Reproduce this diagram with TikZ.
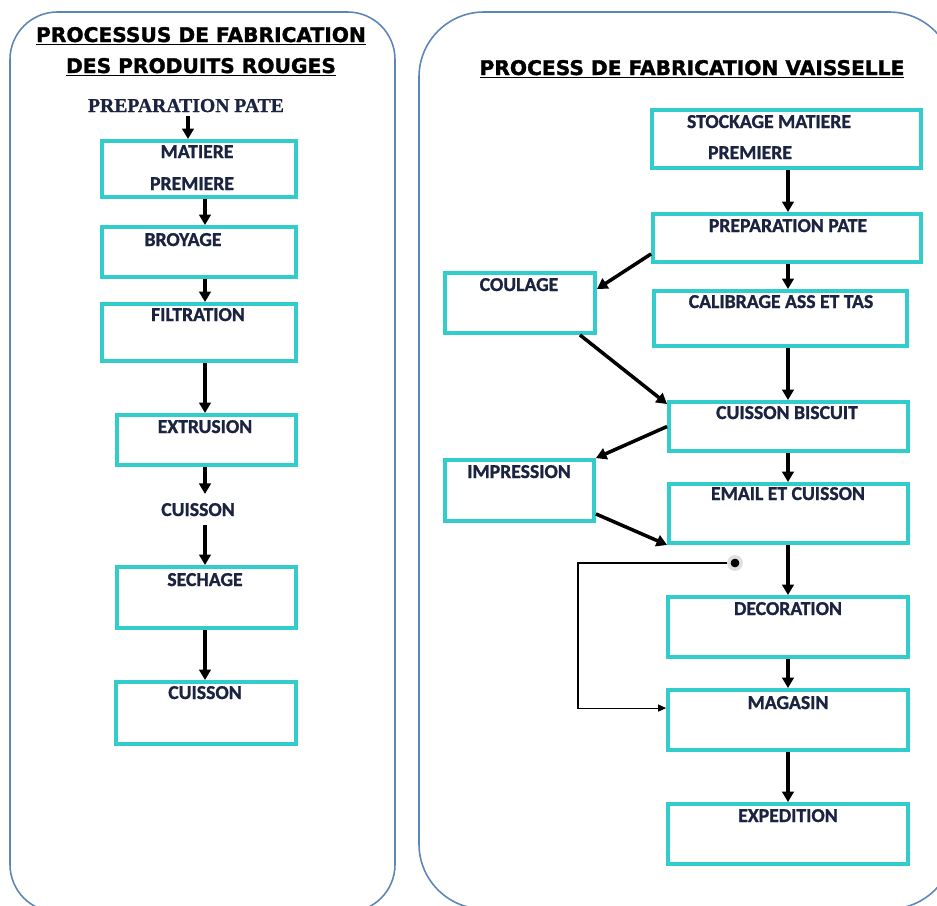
\documentclass[tikz,border=0pt]{standalone}
\usepackage{fontspec}
\setmainfont{Carlito}[BoldFeatures={FakeBold=1.2}]
\newfontfamily\headfont{DejaVu Sans}[BoldFeatures={FakeBold=1.5}]
\newfontfamily\timesfont{Liberation Serif}[BoldFeatures={FakeBold=1}]
\usepackage{xcolor}
\usepackage{tikz}
\usetikzlibrary{arrows.meta,positioning,fit,calc}
\definecolor{frameblue}{HTML}{5B86B5}
\definecolor{turq}{HTML}{33CCCC}
\definecolor{ink}{HTML}{1B2340}
\tikzset{
  panel/.style={draw=frameblue, line width=0.9pt, rounded corners=#1},
  stage/.style={draw=turq, line width=2.2pt, inner sep=0pt},
  lbl/.style={font=\fontsize{11.2}{13}\selectfont\bfseries, text=ink, inner sep=0pt, anchor=base},
  head/.style={font=\headfont\fontsize{11.5}{13}\selectfont\bfseries, text=black, inner sep=0pt, anchor=base},
  flow/.style={-{Triangle[length=6pt,width=6.6pt]}, draw=black, line width=2pt},
  loopback/.style={-{Triangle[length=4.5pt,width=4pt]}, draw=black, line width=0.6pt},
  tap/.style={circle, fill=black, draw=gray!25, line width=2pt, minimum size=7pt, inner sep=0pt},
}

\begin{document}
\begin{tikzpicture}[x=0.02cm, y=-0.02cm]
\useasboundingbox (0,0) rectangle (937,906);
\clip (0,0) rectangle (937,906);

% two panels
\draw[panel=27pt] (10,12) rectangle (395,912);
\draw[panel=37pt] (419,12) rectangle (954,909);

\coordinate (axisL) at (205,0);
\coordinate (axisR) at (788,0);
\coordinate (bend) at (578,0);

%% produits rouges
\node[head] (t-rouge1) at (201,42) {\underline{PROCESSUS DE FABRICATION}};
\node[head] (t-rouge2) at (201,73) {\underline{DES PRODUITS ROUGES}};
\node[lbl, font=\timesfont\fontsize{11.2}{13}\selectfont\bfseries] (t-prep) at (186,112) {PREPARATION PATE};

\node[stage, fit={(102,141) (296,197)}] (mp) {};
\node[lbl] (t-mp1) at (197,158) {MATIERE};
\node[lbl] (t-mp2) at (192,190) {PREMIERE};
\node[stage, fit={(102,227) (296,277)}] (br) {};
\node[lbl] (t-br) at (183,246) {BROYAGE};
\node[stage, fit={(102,304) (296,361)}] (fi) {};
\node[lbl] (t-fi) at (198,321) {FILTRATION};
\node[stage, fit={(117,415) (296,465)}] (ex) {};
\node[lbl] (t-ex) at (205,433) {EXTRUSION};
\node[lbl, inner sep=5pt] (t-cuis1) at (198,516) {CUISSON};
\node[stage, fit={(117,567) (296,628)}] (se) {};
\node[lbl] (t-se) at (205,586) {SECHAGE};
\node[stage, fit={(116,682) (296,744)}] (cu) {};
\node[lbl] (t-cu) at (205,699) {CUISSON};

\draw[flow] ($(t-prep.base)+(2,4)$) -- ($(t-prep.base |- mp.north)+(2,0)$);
\draw[flow] (mp.south -| axisL) -- (br.north -| axisL);
\draw[flow] (br.south -| axisL) -- (fi.north -| axisL);
\draw[flow] (fi.south -| axisL) -- (ex.north -| axisL);
\draw[flow] (ex.south -| axisL) -- (t-cuis1.north -| axisL);
\draw[flow] (t-cuis1.south -| axisL) -- (se.north -| axisL);
\draw[flow] (se.south -| axisL) -- (cu.north -| axisL);

%% vaisselle
\node[head] (t-vaiss) at (692,75) {\underline{PROCESS DE FABRICATION VAISSELLE}};

\node[stage, fit={(652,110) (921,168)}] (sm) {};
\node[lbl] (t-sm1) at (769,128) {STOCKAGE MATIERE};
\node[lbl] (t-sm2) at (750,159) {PREMIERE};
\node[stage, fit={(653,214) (921,262)}] (pp) {};
\node[lbl] (t-pp) at (788,232) {PREPARATION PATE};
\node[stage, fit={(654,291) (907,346)}] (cal) {};
\node[lbl] (t-cal) at (781,308) {CALIBRAGE ASS ET TAS};
\node[stage, fit={(445,273) (595,333)}] (coul) {};
\node[lbl] (t-coul) at (519,291) {COULAGE};
\node[stage, fit={(669,402) (908,451)}] (cb) {};
\node[lbl] (t-cb) at (787,419) {CUISSON BISCUIT};
\node[stage, fit={(445,460) (594,521)}] (imp) {};
\node[lbl] (t-imp) at (519,478) {IMPRESSION};
\node[stage, fit={(669,484) (908,543)}] (em) {};
\node[lbl] (t-em) at (788,500) {EMAIL ET CUISSON};
\node[stage, fit={(668,597) (908,657)}] (deco) {};
\node[lbl] (t-deco) at (788,615) {DECORATION};
\node[stage, fit={(668,690) (908,750)}] (mag) {};
\node[lbl] (t-mag) at (788,709) {MAGASIN};
\node[stage, fit={(668,804) (908,864)}] (exp) {};
\node[lbl] (t-exp) at (788,822) {EXPEDITION};
\node[tap] (tap) at (735,563) {};

\draw[flow] (sm.south -| axisR) -- (pp.north -| axisR);
\draw[flow] (pp.south -| axisR) -- (cal.north -| axisR);
\draw[flow] (cal.south -| axisR) -- (cb.north -| axisR);
\draw[flow] (cb.south -| axisR) -- (em.north -| axisR);
\draw[flow] (em.south -| axisR) -- (deco.north -| axisR);
\draw[flow] (deco.south -| axisR) -- (mag.north -| axisR);
\draw[flow] (mag.south -| axisR) -- (exp.north -| axisR);

% side branches
\draw[flow] ($(pp.south west)+(0,-10)$) -- ($(coul.north east)+(0,18)$);
\draw[flow] ($(coul.south east)+(-17,0)$) -- ($(cb.north west)+(0,4)$);
\draw[flow] (cb.west) -- (imp.north east);
\draw[flow] ($(imp.south east)+(0,-9)$) -- (em.south west);
\draw[loopback] (tap.west) -- (tap.west -| bend) |- ($(mag.north west)+(0,20)$);
\end{tikzpicture}
\end{document}
